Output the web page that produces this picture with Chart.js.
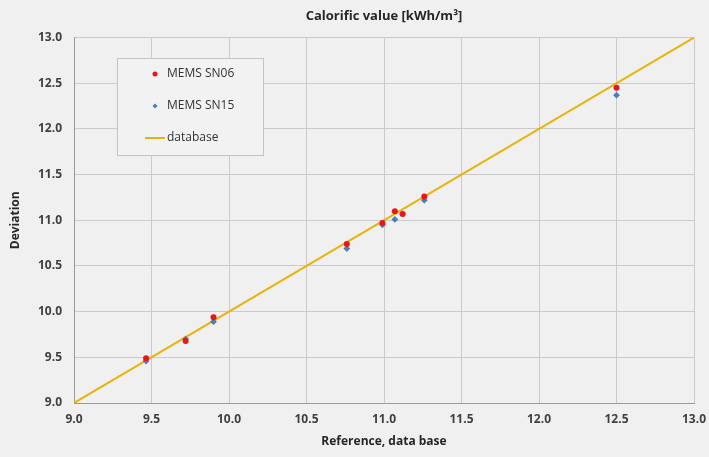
<!DOCTYPE html>
<html>
<head>
<meta charset="utf-8">
<script src="https://cdn.jsdelivr.net/npm/chart.js@4/dist/chart.umd.min.js"></script>
<style>
  html, body { margin: 0; padding: 0; background: #f0f0f0; }
  #wrap { width: 709px; height: 457px; }
</style>
</head>
<body>
<div id="wrap"><canvas id="myChart" width="709" height="457"></canvas></div>
<script>
// reference values (x) and measured values per sensor
const reference = [9.465, 9.72, 9.90, 10.76, 10.99, 11.07, 11.12, 11.26, 12.50];
const sn06 = [9.49, 9.68, 9.94, 10.74, 10.97, 11.10, 11.07, 11.26, 12.45];
const sn15 = [9.46, 9.70, 9.89, 10.69, 10.95, 11.01, 11.07, 11.22, 12.37];
const databaseLine = [9.0, 13.0];
const xTicks = [9.0, 9.5, 10.0, 10.5, 11.0, 11.5, 12.0, 12.5, 13.0];
const yTicks = [9.0, 9.5, 10.0, 10.5, 11.0, 11.5, 12.0, 12.5, 13.0];

const toPoints = (xs, ys) => xs.map((x, i) => ({ x: x, y: ys[i] }));

// legend box drawn inside the plot, like the original
const boxLegend = {
  id: 'boxLegend',
  afterDraw(chart) {
    const ctx = chart.ctx;
    const left = 117, top = 58, w = 146, h = 97;
    ctx.save();
    ctx.fillStyle = '#f2f2f2';
    ctx.strokeStyle = '#c4c4c4';
    ctx.lineWidth = 1;
    ctx.fillRect(left, top, w, h);
    ctx.strokeRect(left + 0.5, top + 0.5, w, h);
    ctx.font = '12px "Open Sans", sans-serif';
    ctx.textBaseline = 'middle';
    chart.data.datasets.forEach((ds, i) => {
      const y = top + 16 + i * 32;
      if (ds.type === 'line') {
        ctx.strokeStyle = ds.borderColor;
        ctx.lineWidth = 2;
        ctx.beginPath();
        ctx.moveTo(left + 28, y);
        ctx.lineTo(left + 48, y);
        ctx.stroke();
      } else {
        ctx.fillStyle = ds.backgroundColor;
        ctx.strokeStyle = ds.backgroundColor;
        Chart.helpers.drawPoint(ctx, {
          pointStyle: ds.pointStyle, radius: 2.5, borderWidth: 0
        }, left + 38, y);
      }
      ctx.fillStyle = '#333';
      ctx.fillText(ds.label, left + 50, y);
    });
    ctx.restore();
  }
};

const ctx = document.getElementById('myChart').getContext('2d');
const myChart = new Chart(ctx, {
  type: 'scatter',
  data: {
    datasets: [{
      label: 'MEMS SN06',
      data: toPoints(reference, sn06),
      backgroundColor: '#e8161b',
      borderWidth: 0,
      pointStyle: 'circle',
      pointRadius: 3
    }, {
      label: 'MEMS SN15',
      data: toPoints(reference, sn15),
      backgroundColor: '#4a7ebb',
      borderWidth: 0,
      pointStyle: 'rectRot',
      pointRadius: 3.4
    }, {
      type: 'line',
      label: 'database',
      data: toPoints(databaseLine, databaseLine),
      borderColor: '#e6b40a',
      borderWidth: 2,
      pointRadius: 0,
      order: 5
    }]
  },
  options: {
    responsive: false,
    animation: false,
    layout: { padding: { left: 4, right: 15, top: 0, bottom: 4 } },
    plugins: {
      legend: { display: false },
      tooltip: { enabled: false },
      title: {
        display: true,
        fullSize: false,
        text: 'Calorific value [kWh/m³]',
        color: '#262626',
        font: { family: '"Open Sans", sans-serif', size: 13, weight: 'bold' },
        padding: { top: 8, bottom: 14 }
      }
    },
    scales: {
      x: {
        type: 'linear',
        min: 9, max: 13,
        afterBuildTicks: s => { s.ticks = xTicks.map(v => ({ value: v })); },
        afterFit: s => { s.height = 50; s.paddingRight = 0; s.paddingLeft = 0; },
        grid: { color: '#cacaca', lineWidth: 1, drawTicks: false },
        border: { color: '#9a9a9a' },
        ticks: {
          padding: 9,
          color: '#404040',
          font: { family: '"Open Sans", sans-serif', size: 12, weight: 'bold' },
          callback: v => v.toFixed(1)
        },
        title: {
          display: true,
          text: 'Reference, data base',
          color: '#262626',
          font: { family: '"Open Sans", sans-serif', size: 12, weight: 'bold' },
          padding: { top: 8 }
        }
      },
      y: {
        min: 9, max: 13,
        afterBuildTicks: s => { s.ticks = yTicks.map(v => ({ value: v })); },
        afterFit: s => { s.width = 70; },
        grid: { color: '#cacaca', lineWidth: 1, drawTicks: false },
        border: { color: '#9a9a9a' },
        ticks: {
          padding: 12,
          color: '#404040',
          font: { family: '"Open Sans", sans-serif', size: 12, weight: 'bold' },
          callback: v => v.toFixed(1)
        },
        title: {
          display: true,
          text: 'Deviation',
          color: '#262626',
          font: { family: '"Open Sans", sans-serif', size: 12, weight: 'bold' },
          padding: { bottom: 4 }
        }
      }
    }
  },
  plugins: [boxLegend]
});
</script>
</body>
</html>
